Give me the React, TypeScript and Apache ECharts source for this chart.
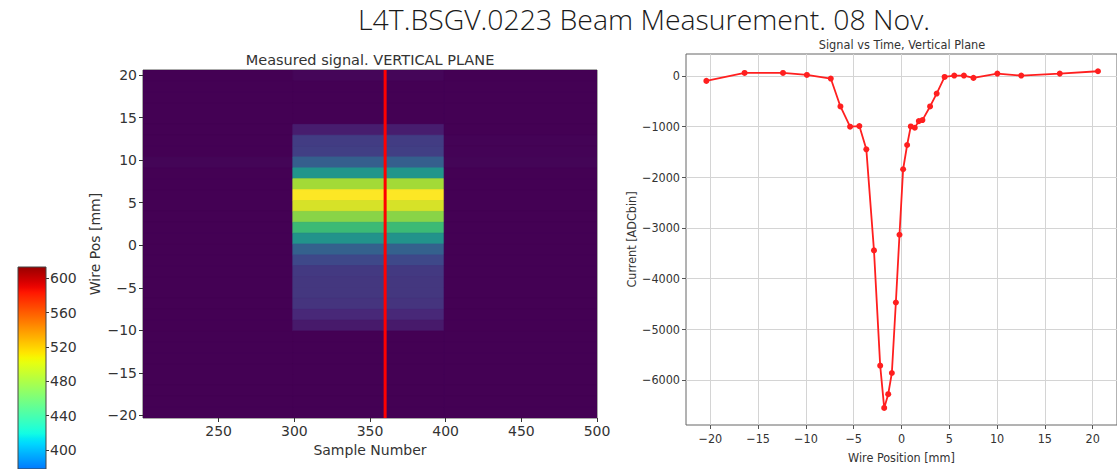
import React, { useEffect, useRef } from "react";
import * as echarts from "echarts";

// ---------- texts ----------
const mainTitle = "L4T.BSGV.0223 Beam Measurement. 08 Nov.";
const heatTitle = "Measured signal. VERTICAL PLANE";
const lineTitle = "Signal vs Time, Vertical Plane";

// ---------- left: measured signal image ----------
const sampleRange = [200, 500];
const wireRange = [-20.3, 20.6];
const sampleTicks = [250, 300, 350, 400, 450, 500];
const wireTicks = [-20, -15, -10, -5, 0, 5, 10, 15, 20];
// column segments (sample number edges): left background, signal block, right background
const columnEdges = [200, 299, 399, 500];
// row intensities (0-100), top row first, one list per column segment
const leftRows = [0, 0, 0, 0, 0, 0, 0, 0, 1, 0, 0, 0, 0, 0, 0, 0, 0, 0, 0, 0, 0, 0, 0, 0, 0, 0, 0, 0, 0, 0, 0, 0];
const blockRows = [1.5, 0, 0, 0, 0, 8, 18, 19, 30, 52, 86, 100, 94, 82, 68, 51, 31, 22, 17, 16, 16, 15, 11, 7, 0, 0, 0, 0, 0, 0, 0, 0];
const rightRows = [0, 0, 0, 0, 0, 0, 0.5, 0.5, 1, 0, 0, 0, 0, 0, 0, 0, 0, 0, 0, 0, 0, 0, 0, 0, 0, 0, 0, 0, 0, 0, 0, 0];
const redLineSample = 360;
const viridis = ["#440154", "#482878", "#3e4989", "#31688e", "#26828e", "#1f9e89", "#35b779", "#6ece58", "#b5de2b", "#fde725"];

// ---------- colour bar ----------
const colorbarRange = [378, 613];
const colorbarTicks = [400, 440, 480, 520, 560, 600];
const jetScale = [300, 620];

// ---------- right: signal vs wire position ----------
const wirePos = [-20.42, -16.42, -12.4, -9.9, -7.4, -6.39, -5.38, -4.41, -3.68, -2.88, -2.23, -1.81, -1.39, -1.01, -0.59, -0.21, 0.17, 0.59, 0.97, 1.39, 1.81, 2.19, 2.99, 3.68, 4.51, 5.52, 6.53, 7.53, 10.03, 12.53, 16.56, 20.56];
const current = [-98, 59, 59, 20, -52, -603, -1003, -990, -1449, -3445, -5721, -6555, -6285, -5866, -4474, -3136, -1843, -1364, -997, -1023, -892, -872, -603, -348, -20, 7, 7, -39, 46, 7, 46, 92];
const posRange = [-22.55, 22.55];
const posTicks = [-20, -15, -10, -5, 0, 5, 10, 15, 20];
const currentRange = [-6893, 433];
const currentTicks = [-6000, -5000, -4000, -3000, -2000, -1000, 0];

const fmt = (v: number) => String(v).replace("-", "\u2212");

function interp(pts: number[][], t: number) {
  for (let i = 1; i < pts.length; i++) {
    if (t <= pts[i][0]) {
      const [t0, v0] = pts[i - 1];
      const [t1, v1] = pts[i];
      return v0 + ((v1 - v0) * (t - t0)) / (t1 - t0);
    }
  }
  return pts[pts.length - 1][1];
}
function jet(t: number) {
  const r = interp([[0, 0], [0.35, 0], [0.66, 1], [0.89, 1], [1, 0.5]], t);
  const g = interp([[0, 0], [0.125, 0], [0.375, 1], [0.64, 1], [0.91, 0], [1, 0]], t);
  const b = interp([[0, 0.5], [0.11, 1], [0.34, 1], [0.65, 0], [1, 0]], t);
  const c = (x: number) => Math.round(Math.max(0, Math.min(1, x)) * 255);
  return `rgb(${c(r)},${c(g)},${c(b)})`;
}

export default function App() {
  const ref = useRef<HTMLDivElement>(null);
  useEffect(() => {
    if (!ref.current) return;
    const chart = echarts.init(ref.current, undefined, { renderer: "svg" });

    const nRows = blockRows.length;
    const h = (wireRange[1] - wireRange[0]) / nRows;
    const rowsByCol = [leftRows, blockRows, rightRows];
    const cells: number[][] = [];
    for (let c = 0; c < 3; c++) {
      for (let i = 0; i < nRows; i++) {
        const top = wireRange[1] - i * h;
        cells.push([columnEdges[c], columnEdges[c + 1], top, top - h, rowsByCol[c][i]]);
      }
    }

    const stops: { offset: number; color: string }[] = [];
    const N = 40;
    for (let k = 0; k <= N; k++) {
      const v = colorbarRange[1] - ((colorbarRange[1] - colorbarRange[0]) * k) / N;
      stops.push({ offset: k / N, color: jet((v - jetScale[0]) / (jetScale[1] - jetScale[0])) });
    }

    const tickColor = "#333";
    const dv = "DejaVu Sans";
    const dvc = "DejaVu Sans Condensed";

    chart.setOption({
      animation: false,
      backgroundColor: "#fff",
      textStyle: { fontFamily: dv },
      graphic: [
        { type: "text", x: 644, y: 19, style: { text: mainTitle, fill: "#1a1a1a", font: '300 28.4px "Open Sans"', lineHeight: 24, align: "center", verticalAlign: "middle" } },
        { type: "text", x: 370, y: 60, style: { text: heatTitle, fill: "#333", font: '14.5px "DejaVu Sans"', lineHeight: 14, align: "center", verticalAlign: "middle" } },
        { type: "text", x: 902, y: 44.5, style: { text: lineTitle, fill: "#333", font: '12.6px "DejaVu Sans Condensed"', lineHeight: 11, align: "center", verticalAlign: "middle" } },
      ],
      visualMap: [
        { type: "continuous", show: false, seriesIndex: 0, dimension: 4, min: 0, max: 100, inRange: { color: viridis } },
      ],
      grid: [
        { left: 143, top: 70, width: 454, height: 348, show: true, borderColor: "#555", borderWidth: 1, backgroundColor: "#440154" },
        { left: 18, top: 267, width: 28, height: 202 },
        { left: 686, top: 54, width: 440, height: 372, show: true, borderColor: "#666", borderWidth: 1, backgroundColor: "transparent" },
      ],
      xAxis: [
        {
          type: "value", gridIndex: 0, min: sampleRange[0], max: sampleRange[1],
          axisLine: { show: false, onZero: false },
          axisTick: { show: true, customValues: sampleTicks, length: 4, lineStyle: { color: tickColor } },
          axisLabel: { customValues: sampleTicks, fontSize: 14, color: tickColor, margin: 6, fontFamily: dv },
          splitLine: { show: false },
          name: "Sample Number", nameLocation: "middle", nameGap: 25,
          nameTextStyle: { fontSize: 14, color: tickColor, fontFamily: dv },
        },
        { type: "value", gridIndex: 1, min: 0, max: 1, show: false },
        {
          type: "value", gridIndex: 2, min: posRange[0], max: posRange[1],
          axisLine: { show: false, onZero: false },
          axisTick: { show: true, customValues: posTicks, length: 4, lineStyle: { color: "#555" } },
          axisLabel: { customValues: posTicks, formatter: fmt, fontSize: 12.5, color: tickColor, margin: 7, fontFamily: dvc },
          splitLine: { show: true, lineStyle: { color: "#d4d4d4", width: 1 } },
          name: "Wire Position [mm]", nameLocation: "middle", nameGap: 26,
          nameTextStyle: { fontSize: 12.5, color: tickColor, fontFamily: dvc },
        },
      ],
      yAxis: [
        {
          type: "value", gridIndex: 0, min: wireRange[0], max: wireRange[1],
          axisLine: { show: false, onZero: false },
          axisTick: { show: true, customValues: wireTicks, length: 4, lineStyle: { color: tickColor } },
          axisLabel: { customValues: wireTicks, formatter: fmt, fontSize: 14, color: tickColor, margin: 6, fontFamily: dv },
          splitLine: { show: false },
          name: "Wire Pos [mm]", nameLocation: "middle", nameGap: 41, nameRotate: 90,
          nameTextStyle: { fontSize: 14, color: tickColor, fontFamily: dv },
        },
        {
          type: "value", gridIndex: 1, min: colorbarRange[0], max: colorbarRange[1], position: "right",
          axisLine: { show: false, onZero: false },
          axisTick: { show: true, customValues: colorbarTicks, length: 3, lineStyle: { color: tickColor } },
          axisLabel: { customValues: colorbarTicks, fontSize: 14, color: tickColor, margin: 4, fontFamily: dv },
          splitLine: { show: false },
        },
        {
          type: "value", gridIndex: 2, min: currentRange[0], max: currentRange[1],
          axisLine: { show: false, onZero: false },
          axisTick: { show: true, customValues: currentTicks, length: 4, lineStyle: { color: "#555" } },
          axisLabel: { customValues: currentTicks, formatter: fmt, fontSize: 12.5, color: tickColor, margin: 6, fontFamily: dvc },
          splitLine: { show: true, lineStyle: { color: "#d4d4d4", width: 1 } },
          name: "Current [ADCbin]", nameLocation: "middle", nameGap: 46, nameRotate: 90,
          nameTextStyle: { fontSize: 12.5, color: tickColor, fontFamily: dvc },
        },
      ],
      series: [
        {
          type: "custom", xAxisIndex: 0, yAxisIndex: 0, data: cells, clip: true,
          encode: { x: [0, 1], y: [2, 3] },
          renderItem: (params: any, api: any) => {
            const p0 = api.coord([api.value(0), api.value(2)]);
            const p1 = api.coord([api.value(1), api.value(3)]);
            const col = api.visual("color");
            return {
              type: "rect",
              shape: { x: p0[0], y: p0[1], width: p1[0] - p0[0], height: p1[1] - p0[1] },
              style: { fill: col, stroke: col, lineWidth: 0.8 },
            };
          },
        },
        {
          type: "line", xAxisIndex: 0, yAxisIndex: 0, z: 5, symbol: "none", silent: true,
          data: [[redLineSample, wireRange[0]], [redLineSample, wireRange[1]]],
          lineStyle: { color: "#ff0000", width: 3 },
        },
        {
          type: "custom", xAxisIndex: 1, yAxisIndex: 1, data: [[0, 1, colorbarRange[1], colorbarRange[0]]],
          encode: { x: [0, 1], y: [2, 3] },
          renderItem: (params: any, api: any) => {
            const p0 = api.coord([api.value(0), api.value(2)]);
            const p1 = api.coord([api.value(1), api.value(3)]);
            return {
              type: "rect",
              shape: { x: p0[0], y: p0[1], width: p1[0] - p0[0], height: p1[1] - p0[1] },
              style: { fill: new echarts.graphic.LinearGradient(0, 0, 0, 1, stops), stroke: "#444", lineWidth: 1 },
            };
          },
        },
        {
          type: "line", xAxisIndex: 2, yAxisIndex: 2,
          data: wirePos.map((x, i) => [x, current[i]]),
          symbol: "circle", symbolSize: 6,
          lineStyle: { color: "#ff1f1f", width: 1.8 },
          itemStyle: { color: "#ff1f1f" },
        },
      ],
    });
    return () => chart.dispose();
  }, []);
  return <div ref={ref} style={{ position: "fixed", left: 0, top: 0, width: 1117, height: 469 }} />;
}
